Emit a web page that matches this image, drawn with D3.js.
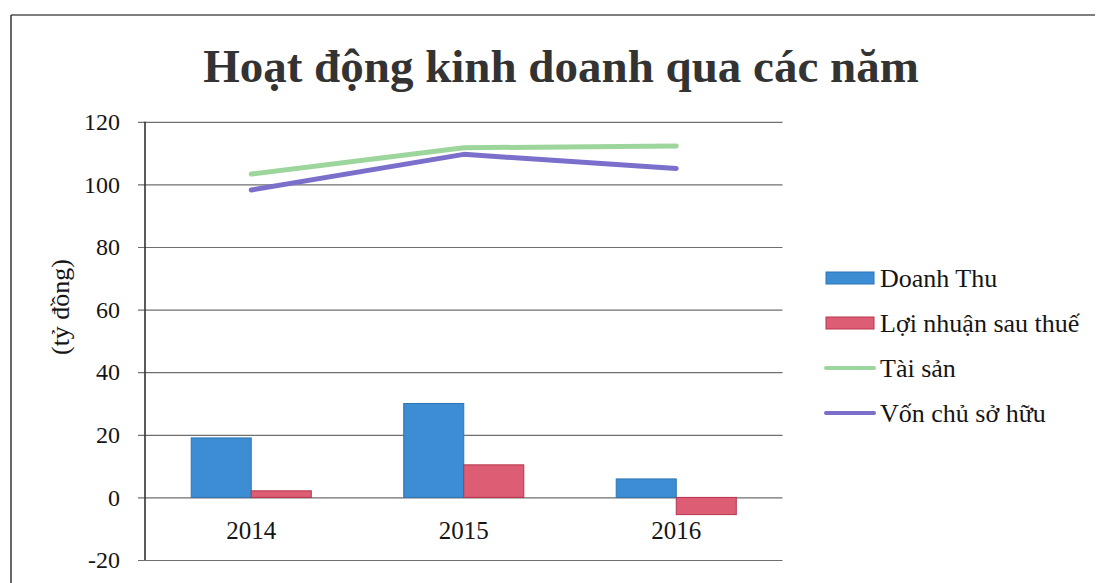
<!DOCTYPE html>
<html>
<head>
<meta charset="utf-8">
<script src="https://cdn.jsdelivr.net/npm/d3@7"></script>
<style>
  body { margin: 0; background: #fff; }
  svg { display: block; }
  text { font-family: "Liberation Serif", "Times New Roman", serif; fill: #151515; }
</style>
</head>
<body>
<svg id="chart"></svg>
<script>
// ======================
// DATA
// ======================
const years = ["2014", "2015", "2016"];
const doanhThu = [19.0, 30.0, 5.9];
const loiNhuan = [2.1, 10.4, -5.5];
const taiSan = [103.3, 111.7, 112.3];
const vonChuSoHuu = [98.2, 109.6, 105.1];
const yTicks = [-20, 0, 20, 40, 60, 80, 100, 120];

const barSeries = [
    { name: "Doanh Thu", values: doanhThu, color: "#3c8dd3", edge: "#2f74b3" },
    { name: "Lợi nhuận sau thuế", values: loiNhuan, color: "#dc5d74", edge: "#b8344d" }
];
const lineSeries = [
    { name: "Tài sản", values: taiSan, color: "#9dd69d" },
    { name: "Vốn chủ sở hữu", values: vonChuSoHuu, color: "#7a6fcb" }
];

// ======================
// SETUP
// ======================
const width = 1101;
const height = 583;
const svg = d3.select("#chart").attr("width", width).attr("height", height);

const plot = { left: 145, right: 782.5, top: 121.8, bottom: 560 };

// frame (scan shows left and top edges only)
svg.append("line").attr("x1", 11).attr("x2", 1095).attr("y1", 15).attr("y2", 15)
    .attr("stroke", "#555").attr("stroke-width", 1.5);
svg.append("line").attr("x1", 11).attr("x2", 11).attr("y1", 15).attr("y2", height)
    .attr("stroke", "#333").attr("stroke-width", 1.5);

svg.append("text")
    .attr("x", 561).attr("y", 82)
    .attr("text-anchor", "middle")
    .attr("font-size", 47).attr("font-weight", "bold")
    .style("fill", "#333")
    .text("Hoạt động kinh doanh qua các năm");

const x0 = d3.scaleBand()
    .domain(years)
    .range([plot.left, plot.right])
    .paddingInner(0.435)
    .paddingOuter(0.2175);

const x1 = d3.scaleBand()
    .domain(barSeries.map(d => d.name))
    .range([0, x0.bandwidth()]);

const y = d3.scaleLinear()
    .domain([-20, 120])
    .range([plot.bottom, plot.top]);

// gridlines + y axis
const yAxis = d3.axisLeft(y)
    .tickValues(yTicks)
    .tickSize(-(plot.right - plot.left))
    .tickPadding(25)
    .tickFormat(d => String(d));

const yAxisG = svg.append("g")
    .attr("transform", `translate(${plot.left},0)`)
    .call(yAxis)
    .attr("font-family", "Liberation Serif")
    .attr("font-size", 24);
yAxisG.select(".domain").remove();
yAxisG.selectAll(".tick line")
    .attr("x1", -7)
    .attr("stroke", "#6f6f6f")
    .attr("stroke-width", 1.2);
yAxisG.selectAll(".tick text")
    .style("fill", "#151515");

svg.append("line")
    .attr("x1", plot.left).attr("x2", plot.left)
    .attr("y1", plot.top).attr("y2", plot.bottom)
    .attr("stroke", "#333").attr("stroke-width", 1.6);

// axis title
svg.append("text")
    .attr("transform", "translate(69,307) rotate(-90)")
    .attr("text-anchor", "middle")
    .attr("font-size", 26)
    .text("(tỷ đồng)");

// x labels
svg.selectAll("text.year")
    .data(years)
    .enter()
    .append("text")
    .attr("class", "year")
    .attr("x", d => x0(d) + x0.bandwidth() / 2)
    .attr("y", 539)
    .attr("text-anchor", "middle")
    .attr("font-size", 25)
    .text(d => d);

// ======================
// BARS
// ======================
barSeries.forEach(s => {
    svg.selectAll(null)
        .data(years.map((yr, i) => ({ year: yr, value: s.values[i] })))
        .enter()
        .append("rect")
        .attr("x", d => x0(d.year) + x1(s.name))
        .attr("y", d => y(Math.max(0, d.value)))
        .attr("width", x1.bandwidth())
        .attr("height", d => Math.abs(y(d.value) - y(0)))
        .attr("fill", s.color)
        .attr("stroke", s.edge)
        .attr("stroke-width", 1);
});

// ======================
// LINES
// ======================
const lineGen = d3.line()
    .x(d => x0(d.year) + x0.bandwidth() / 2)
    .y(d => y(d.value));

lineSeries.forEach(s => {
    svg.append("path")
        .datum(years.map((yr, i) => ({ year: yr, value: s.values[i] })))
        .attr("fill", "none")
        .attr("stroke", s.color)
        .attr("stroke-width", 5)
        .attr("stroke-linecap", "round")
        .attr("stroke-linejoin", "round")
        .attr("d", lineGen);
});

// ======================
// LEGEND
// ======================
const legendItems = [
    ...barSeries.map(s => ({ name: s.name, color: s.color, edge: s.edge, type: "bar" })),
    ...lineSeries.map(s => ({ name: s.name, color: s.color, type: "line" }))
];

const legend = svg.selectAll("g.legend")
    .data(legendItems)
    .enter()
    .append("g")
    .attr("class", "legend")
    .attr("transform", (d, i) => `translate(826,${278 + i * 45})`);

legend.filter(d => d.type === "bar")
    .append("rect")
    .attr("x", 0).attr("y", -6)
    .attr("width", 48).attr("height", 12)
    .attr("fill", d => d.color)
    .attr("stroke", d => d.edge);

legend.filter(d => d.type === "line")
    .append("line")
    .attr("x1", 0).attr("x2", 48)
    .attr("stroke", d => d.color)
    .attr("stroke-width", 4)
    .attr("stroke-linecap", "round");

legend.append("text")
    .attr("x", 54)
    .attr("y", 9)
    .attr("font-size", 26)
    .text(d => d.name);
</script>
</body>
</html>
